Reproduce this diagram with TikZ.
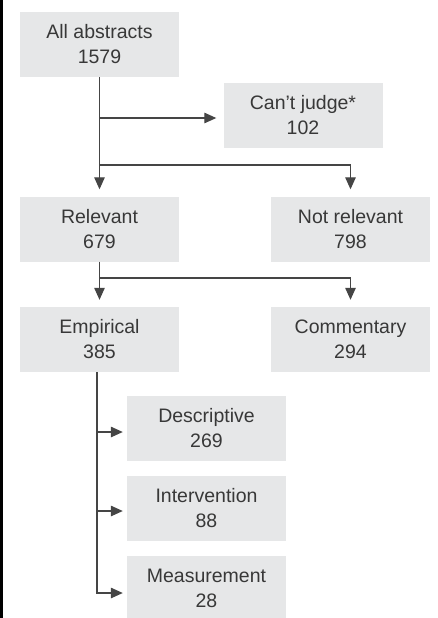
\documentclass[tikz,border=0pt]{standalone}
\usepackage{fontspec}
\setmainfont{Liberation Sans}
\usetikzlibrary{arrows.meta}
\definecolor{boxgray}{HTML}{E6E7E8}
\definecolor{linegray}{HTML}{454545}
\definecolor{txtgray}{HTML}{383838}
\begin{document}
\begin{tikzpicture}[x=1pt,y=-1pt,
  box/.style={fill=boxgray, minimum width=159pt, minimum height=65pt, align=center,
    font=\fontsize{19.5}{25}\selectfont, text=txtgray, inner sep=0pt},
  conn/.style={draw=linegray, line width=1.3pt},
  arr/.style={conn, -{Triangle[length=12pt,width=10.5pt]}, shorten >=7pt},
  sarr/.style={conn, -{Triangle[length=12pt,width=10.5pt]}, shorten >=4pt}]
\useasboundingbox (0,0) rectangle (438,618);
\fill[black] (0,0) rectangle (3,618);
\node[box] (all) at (99.5,44.5) {All abstracts\\1579};
\node[box] (cant) at (303,115.5) {Can’t judge*\\102};
\node[box] (rel) at (99.5,229) {Relevant\\679};
\node[box] (notrel) at (350.5,229) {Not relevant\\798};
\node[box] (emp) at (99.5,339.5) {Empirical\\385};
\node[box] (comm) at (350.5,339.5) {Commentary\\294};
\node[box] (desc) at (206.5,428.5) {Descriptive\\269};
\node[box] (interv) at (206.5,508.5) {Intervention\\88};
\node[box] (meas) at (206.5,588.5) {Measurement\\28};
\coordinate (j1) at (99.5,118);
\coordinate (j2) at (99.5,165);
\coordinate (j3) at (99.5,278);
\coordinate (j4) at (97,400);
\draw[conn] (all.south) -- (j2);
\draw[arr] (j1) -- (cant.west |- j1);
\draw[arr] (j2) -- (rel.north);
\draw[arr] (j2) -| (notrel.north);
\draw[conn] (rel.south) -- (j3);
\draw[arr] (j3) -- (emp.north);
\draw[arr] (j3) -| (comm.north);
\draw[sarr] (emp.south -| j4) |- ([yshift=-4.5pt]meas.west);
\draw[sarr] ([yshift=-3.5pt]desc.west -| j4) -- ([yshift=-3.5pt]desc.west);
\draw[sarr] ([yshift=-2.5pt]interv.west -| j4) -- ([yshift=-2.5pt]interv.west);
\end{tikzpicture}
\end{document}
